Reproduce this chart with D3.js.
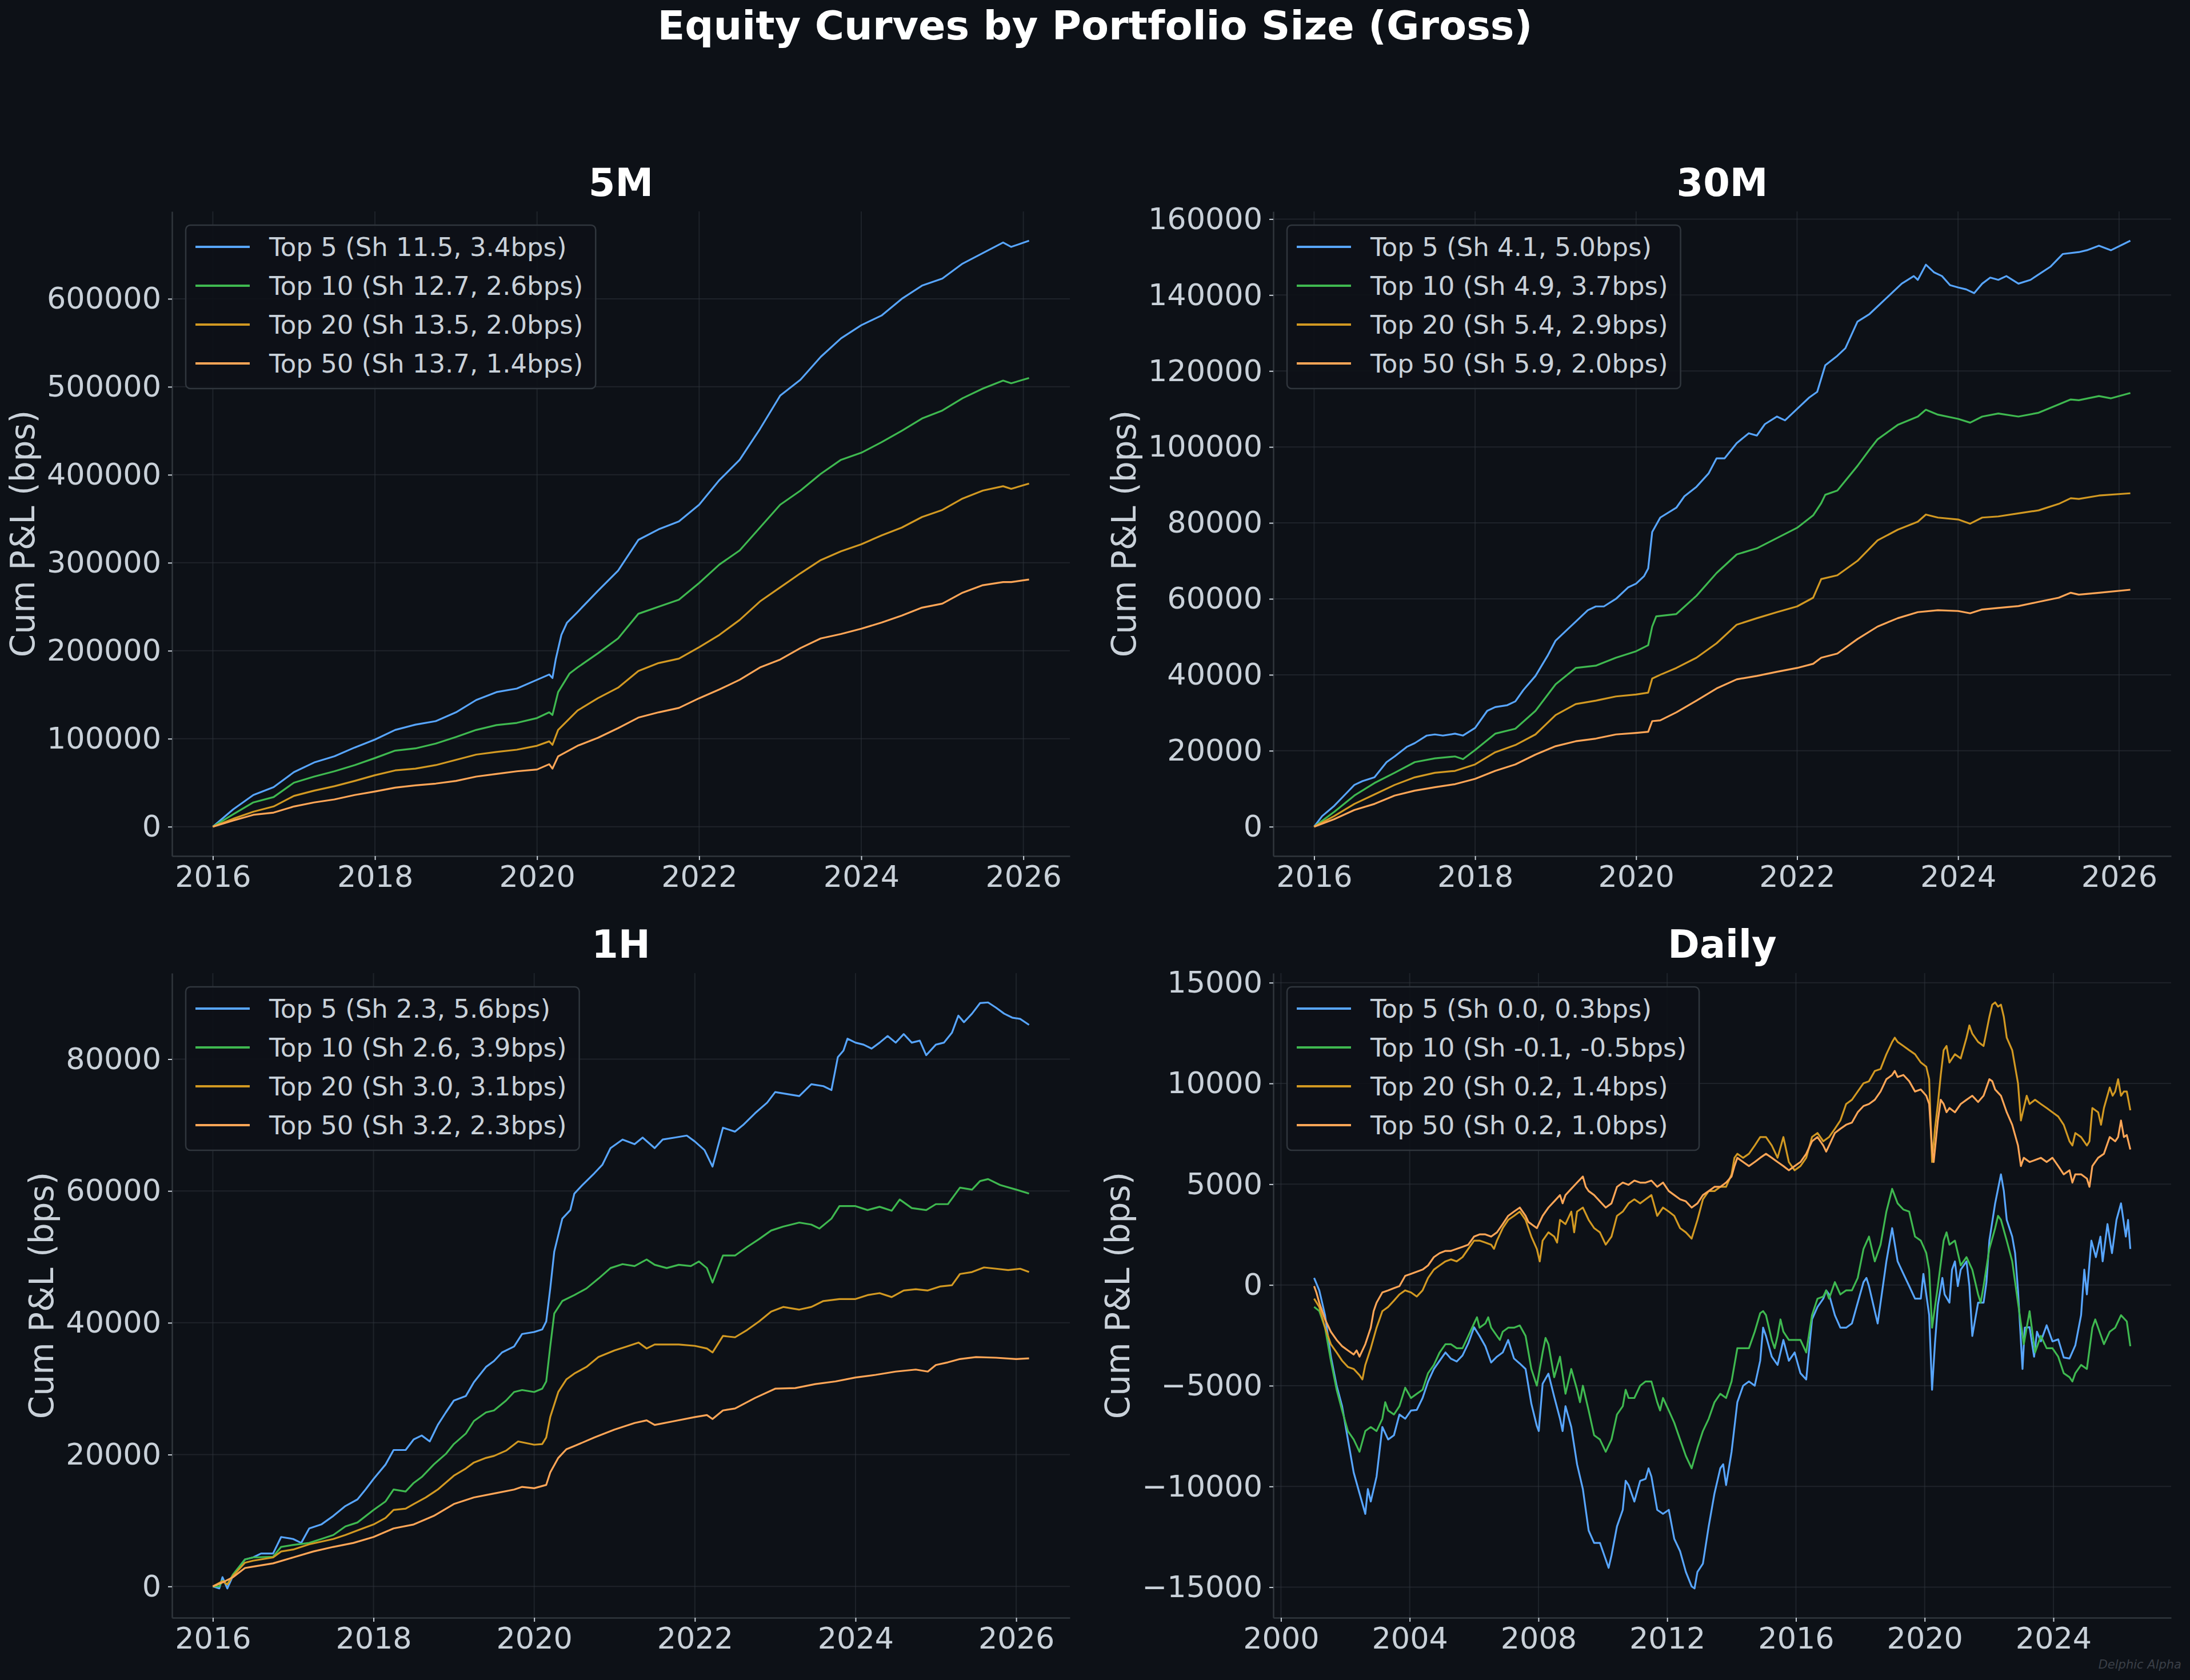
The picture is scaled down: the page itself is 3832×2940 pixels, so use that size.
<!DOCTYPE html>
<html>
<head>
<meta charset="utf-8">
<script src="https://cdn.jsdelivr.net/npm/d3@7"></script>
<style>
  body { margin: 0; background: #0d1117; }
  svg { display: block; }
</style>
</head>
<body>
<svg id="chart"></svg>
<script>
const svgWidth = 3832;
const svgHeight = 2940;
const colors = ["#58a6ff", "#3fb950", "#d29922", "#ffa657"];

// 5M
const legend5m = ["Top 5 (Sh 11.5, 3.4bps)", "Top 10 (Sh 12.7, 2.6bps)", "Top 20 (Sh 13.5, 2.0bps)", "Top 50 (Sh 13.7, 1.4bps)"];
const m5Top5 = [[2016.0,0],[2016.25,19600],[2016.5,36000],[2016.75,45000],[2017.0,62000],[2017.25,73000],[2017.5,80000],[2017.75,90000],[2018.0,99000],[2018.25,110000],[2018.5,116000],[2018.75,120000],[2019.0,130000],[2019.25,144000],[2019.5,153000],[2019.75,157000],[2020.0,167000],[2020.15,173000],[2020.19,169000],[2020.23,190000],[2020.3,218000],[2020.37,232000],[2020.5,244000],[2020.75,268000],[2021.0,291000],[2021.25,326000],[2021.5,338000],[2021.75,347000],[2022.0,366000],[2022.25,394000],[2022.5,417000],[2022.75,452000],[2023.0,490000],[2023.25,508000],[2023.5,534000],[2023.75,555000],[2024.0,570000],[2024.25,581000],[2024.5,600000],[2024.75,615000],[2025.0,623000],[2025.25,640000],[2025.5,652000],[2025.75,664000],[2025.85,659000],[2026.07,666000]];
const m5Top10 = [[2016.0,0],[2016.25,14000],[2016.5,27600],[2016.75,33700],[2017.0,50000],[2017.25,57000],[2017.5,63000],[2017.75,70000],[2018.0,78000],[2018.25,86500],[2018.5,89000],[2018.75,94500],[2019.0,102000],[2019.25,110000],[2019.5,115500],[2019.75,118000],[2020.0,123500],[2020.15,130000],[2020.19,127000],[2020.26,153000],[2020.4,174000],[2020.5,181000],[2020.75,197000],[2021.0,214000],[2021.25,242000],[2021.5,250000],[2021.75,258000],[2022.0,277000],[2022.25,298000],[2022.5,314000],[2022.75,340000],[2023.0,366000],[2023.25,382000],[2023.5,401000],[2023.75,417000],[2024.0,425000],[2024.25,437000],[2024.5,450000],[2024.75,464000],[2025.0,473000],[2025.25,487000],[2025.5,498000],[2025.75,507000],[2025.85,504000],[2026.07,510000]];
const m5Top20 = [[2016.0,0],[2016.25,9000],[2016.5,17000],[2016.75,23000],[2017.0,35000],[2017.25,41000],[2017.5,46000],[2017.75,52000],[2018.0,58500],[2018.25,64000],[2018.5,66000],[2018.75,70000],[2019.0,76000],[2019.25,82000],[2019.5,85000],[2019.75,87500],[2020.0,92000],[2020.15,97000],[2020.19,93000],[2020.26,110000],[2020.5,132000],[2020.75,146000],[2021.0,158000],[2021.25,177000],[2021.5,186000],[2021.75,191000],[2022.0,204000],[2022.25,218000],[2022.5,235000],[2022.75,256000],[2023.0,272000],[2023.25,288000],[2023.5,303000],[2023.75,313000],[2024.0,321000],[2024.25,331000],[2024.5,340000],[2024.75,352000],[2025.0,360000],[2025.25,373000],[2025.5,382000],[2025.75,387000],[2025.85,384000],[2026.07,390000]];
const m5Top50 = [[2016.0,0],[2016.25,7000],[2016.5,13500],[2016.75,16000],[2017.0,23000],[2017.25,27600],[2017.5,31000],[2017.75,36000],[2018.0,40000],[2018.25,44400],[2018.5,47000],[2018.75,49000],[2019.0,52000],[2019.25,57000],[2019.5,60000],[2019.75,63000],[2020.0,65000],[2020.15,71000],[2020.19,66000],[2020.26,80000],[2020.5,92000],[2020.75,101000],[2021.0,112000],[2021.25,124000],[2021.5,130000],[2021.75,135000],[2022.0,146000],[2022.25,156000],[2022.5,167000],[2022.75,181000],[2023.0,190000],[2023.25,203000],[2023.5,214000],[2023.75,219000],[2024.0,225000],[2024.25,232000],[2024.5,240000],[2024.75,249000],[2025.0,253500],[2025.25,266000],[2025.5,274500],[2025.75,278000],[2025.85,278000],[2026.07,281000]];

// 30M
const legend30m = ["Top 5 (Sh 4.1, 5.0bps)", "Top 10 (Sh 4.9, 3.7bps)", "Top 20 (Sh 5.4, 2.9bps)", "Top 50 (Sh 5.9, 2.0bps)"];
const m30Top5 = [[2016.0,0],[2016.1,2800],[2016.25,5500],[2016.4,8800],[2016.5,11000],[2016.6,12000],[2016.75,13000],[2016.9,17000],[2017.0,18500],[2017.15,21000],[2017.25,22000],[2017.4,24000],[2017.5,24300],[2017.6,24000],[2017.75,24500],[2017.85,24000],[2018.0,26000],[2018.15,30500],[2018.25,31500],[2018.4,32000],[2018.5,33000],[2018.6,36000],[2018.75,39700],[2018.9,45000],[2019.0,49000],[2019.15,52000],[2019.25,54000],[2019.4,57000],[2019.5,58000],[2019.6,58000],[2019.75,60000],[2019.9,63000],[2020.0,64000],[2020.1,66000],[2020.15,68000],[2020.2,77600],[2020.3,81400],[2020.5,84000],[2020.6,87000],[2020.75,89500],[2020.9,93000],[2021.0,97000],[2021.1,97000],[2021.25,101000],[2021.4,103600],[2021.5,103000],[2021.6,106000],[2021.75,108000],[2021.85,107000],[2022.0,110000],[2022.15,113000],[2022.25,114500],[2022.35,121500],[2022.5,124000],[2022.6,126000],[2022.75,133000],[2022.9,135000],[2023.0,137000],[2023.15,140000],[2023.3,143000],[2023.45,145000],[2023.5,144000],[2023.6,148000],[2023.7,146000],[2023.8,145000],[2023.9,142600],[2024.0,142000],[2024.1,141500],[2024.2,140500],[2024.3,143000],[2024.4,144600],[2024.5,144000],[2024.6,145000],[2024.75,143000],[2024.9,144000],[2025.0,145400],[2025.15,147500],[2025.3,150800],[2025.5,151300],[2025.6,151800],[2025.75,153000],[2025.9,151800],[2026.14,154300]];
const m30Top10 = [[2016.0,0],[2016.25,3900],[2016.5,8200],[2016.75,11500],[2017.0,14200],[2017.25,17000],[2017.5,18000],[2017.75,18500],[2017.85,17800],[2018.0,20200],[2018.25,24500],[2018.5,25800],[2018.75,30500],[2019.0,37500],[2019.25,41800],[2019.5,42400],[2019.75,44500],[2020.0,46200],[2020.15,47800],[2020.2,52700],[2020.25,55400],[2020.5,56000],[2020.75,60800],[2021.0,66800],[2021.25,71700],[2021.5,73300],[2021.75,76000],[2022.0,78700],[2022.2,82000],[2022.3,85200],[2022.35,87400],[2022.5,88500],[2022.75,95000],[2022.9,99300],[2023.0,102000],[2023.25,105800],[2023.5,108000],[2023.6,109800],[2023.75,108500],[2024.0,107400],[2024.15,106400],[2024.3,108000],[2024.5,108800],[2024.75,108000],[2025.0,109000],[2025.25,111200],[2025.4,112500],[2025.5,112300],[2025.75,113400],[2025.9,112800],[2026.14,114200]];
const m30Top20 = [[2016.0,0],[2016.25,2800],[2016.5,6000],[2016.75,8500],[2017.0,11000],[2017.25,13000],[2017.5,14200],[2017.75,14700],[2018.0,16400],[2018.25,19600],[2018.5,21500],[2018.75,24300],[2019.0,29400],[2019.25,32300],[2019.5,33200],[2019.75,34300],[2020.0,34800],[2020.15,35300],[2020.2,39000],[2020.3,40000],[2020.5,41800],[2020.75,44500],[2021.0,48300],[2021.25,53200],[2021.5,54900],[2021.75,56500],[2022.0,58000],[2022.2,60300],[2022.3,65200],[2022.5,66200],[2022.75,70000],[2023.0,75400],[2023.25,78200],[2023.5,80300],[2023.6,82200],[2023.75,81400],[2024.0,80900],[2024.15,79800],[2024.3,81400],[2024.5,81700],[2024.75,82500],[2025.0,83300],[2025.25,85000],[2025.4,86500],[2025.5,86300],[2025.75,87200],[2026.14,87800]];
const m30Top50 = [[2016.0,0],[2016.25,2000],[2016.5,4400],[2016.75,6000],[2017.0,8200],[2017.25,9500],[2017.5,10400],[2017.75,11200],[2018.0,12600],[2018.25,14700],[2018.5,16400],[2018.75,19000],[2019.0,21200],[2019.25,22500],[2019.5,23200],[2019.75,24300],[2020.0,24700],[2020.15,25000],[2020.2,27800],[2020.3,28000],[2020.5,30100],[2020.75,33200],[2021.0,36400],[2021.25,38800],[2021.5,39700],[2021.75,40800],[2022.0,41800],[2022.2,42900],[2022.3,44500],[2022.5,45600],[2022.75,49400],[2023.0,52700],[2023.25,54900],[2023.5,56500],[2023.75,57000],[2024.0,56800],[2024.15,56200],[2024.3,57200],[2024.5,57600],[2024.75,58100],[2025.0,59200],[2025.25,60300],[2025.4,61600],[2025.5,61100],[2025.75,61600],[2026.14,62400]];

// 1H
const legend1h = ["Top 5 (Sh 2.3, 5.6bps)", "Top 10 (Sh 2.6, 3.9bps)", "Top 20 (Sh 3.0, 3.1bps)", "Top 50 (Sh 3.2, 2.3bps)"];
const h1Top5 = [[2016.0,0],[2016.08,-300],[2016.12,1400],[2016.18,-300],[2016.25,1600],[2016.4,4100],[2016.5,4400],[2016.6,5000],[2016.75,5000],[2016.85,7500],[2017.0,7200],[2017.1,6600],[2017.2,8800],[2017.35,9400],[2017.5,10700],[2017.65,12200],[2017.8,13200],[2017.9,14700],[2018.0,16300],[2018.15,18500],[2018.25,20700],[2018.4,20700],[2018.5,22300],[2018.6,22900],[2018.7,22000],[2018.8,24500],[2018.9,26400],[2019.0,28200],[2019.15,28900],[2019.25,31000],[2019.4,33300],[2019.5,34200],[2019.6,35500],[2019.75,36400],[2019.85,38300],[2020.0,38600],[2020.1,39000],[2020.15,40200],[2020.2,45200],[2020.25,50800],[2020.3,53300],[2020.35,55800],[2020.45,57100],[2020.5,59600],[2020.6,60900],[2020.75,62700],[2020.85,64000],[2020.95,66500],[2021.1,67800],[2021.25,67100],[2021.35,68100],[2021.5,66500],[2021.6,67800],[2021.75,68100],[2021.9,68400],[2022.0,67500],[2022.12,66200],[2022.22,63700],[2022.35,69600],[2022.5,69000],[2022.6,70000],[2022.75,71800],[2022.9,73400],[2023.0,75000],[2023.15,74700],[2023.3,74400],[2023.45,76200],[2023.6,75900],[2023.7,75300],[2023.78,80300],[2023.85,81300],[2023.9,83100],[2024.0,82500],[2024.1,82200],[2024.2,81600],[2024.3,82500],[2024.4,83500],[2024.5,82500],[2024.6,83800],[2024.7,82500],[2024.8,82800],[2024.88,80600],[2025.0,82200],[2025.1,82500],[2025.2,84000],[2025.28,86600],[2025.35,85600],[2025.45,86900],[2025.55,88500],[2025.65,88600],[2025.75,87800],[2025.85,86900],[2025.95,86300],[2026.05,86100],[2026.16,85200]];
const h1Top10 = [[2016.0,0],[2016.08,0],[2016.12,900],[2016.18,300],[2016.25,1800],[2016.4,4100],[2016.5,4400],[2016.75,4500],[2016.85,6000],[2017.0,6300],[2017.2,6600],[2017.35,7200],[2017.5,7800],[2017.65,9100],[2017.8,9700],[2018.0,11600],[2018.15,12900],[2018.25,14700],[2018.4,14400],[2018.5,15700],[2018.6,16600],[2018.75,18500],[2018.9,20100],[2019.0,21600],[2019.15,23200],[2019.25,25100],[2019.4,26400],[2019.5,26700],[2019.65,28200],[2019.75,29500],[2019.85,29800],[2020.0,29500],[2020.1,30000],[2020.15,31100],[2020.2,36400],[2020.25,41400],[2020.35,43300],[2020.5,44200],[2020.65,45200],[2020.8,46700],[2020.95,48300],[2021.1,48900],[2021.25,48600],[2021.4,49600],[2021.5,48800],[2021.65,48300],[2021.8,48800],[2021.95,48600],[2022.05,49300],[2022.15,48300],[2022.22,46100],[2022.35,50200],[2022.5,50200],[2022.65,51500],[2022.8,52700],[2022.95,54000],[2023.1,54600],[2023.3,55200],[2023.45,54900],[2023.55,54300],[2023.7,55800],[2023.8,57700],[2024.0,57700],[2024.15,57100],[2024.3,57600],[2024.45,57000],[2024.55,58700],[2024.7,57400],[2024.88,57100],[2025.0,58000],[2025.15,58000],[2025.3,60500],[2025.45,60200],[2025.55,61500],[2025.65,61800],[2025.8,60900],[2026.0,60200],[2026.16,59600]];
const h1Top20 = [[2016.0,0],[2016.12,800],[2016.18,300],[2016.25,1600],[2016.4,3600],[2016.5,3900],[2016.75,4400],[2016.85,5300],[2017.0,5600],[2017.2,6400],[2017.5,7200],[2017.65,7800],[2017.8,8500],[2018.0,9400],[2018.15,10400],[2018.25,11600],[2018.4,11800],[2018.5,12500],[2018.65,13500],[2018.8,14700],[2019.0,16800],[2019.15,17900],[2019.25,18800],[2019.4,19500],[2019.5,19800],[2019.65,20600],[2019.8,22000],[2020.0,21500],[2020.1,21600],[2020.15,22600],[2020.2,25700],[2020.3,29500],[2020.4,31400],[2020.5,32300],[2020.65,33300],[2020.8,34800],[2021.0,35800],[2021.15,36400],[2021.3,37000],[2021.4,36100],[2021.5,36700],[2021.65,36700],[2021.8,36700],[2022.0,36500],[2022.15,36100],[2022.22,35500],[2022.35,38000],[2022.5,37800],[2022.65,38900],[2022.8,40200],[2022.95,41700],[2023.1,42400],[2023.3,42000],[2023.45,42400],[2023.6,43300],[2023.8,43600],[2024.0,43600],[2024.15,44200],[2024.3,44500],[2024.45,43900],[2024.6,44900],[2024.75,45100],[2024.9,44900],[2025.05,45500],[2025.2,45700],[2025.3,47400],[2025.45,47700],[2025.6,48400],[2025.75,48200],[2025.9,48000],[2026.05,48200],[2026.16,47700]];
const h1Top50 = [[2016.0,0],[2016.12,600],[2016.25,1400],[2016.4,2800],[2016.5,3000],[2016.75,3500],[2017.0,4400],[2017.25,5300],[2017.5,6000],[2017.75,6600],[2018.0,7500],[2018.25,8800],[2018.5,9400],[2018.75,10700],[2019.0,12500],[2019.25,13500],[2019.5,14100],[2019.75,14700],[2019.85,15100],[2020.0,14900],[2020.15,15400],[2020.2,17300],[2020.3,19500],[2020.4,20800],[2020.5,21300],[2020.75,22600],[2021.0,23800],[2021.25,24800],[2021.4,25200],[2021.5,24500],[2021.75,25100],[2022.0,25700],[2022.15,26000],[2022.22,25400],[2022.35,26700],[2022.5,27000],[2022.75,28600],[2023.0,30000],[2023.25,30100],[2023.5,30700],[2023.75,31100],[2024.0,31700],[2024.25,32100],[2024.5,32600],[2024.75,32900],[2024.9,32600],[2025.0,33600],[2025.15,34000],[2025.3,34500],[2025.5,34800],[2025.75,34700],[2026.0,34500],[2026.16,34600]];

// Daily
const legendDaily = ["Top 5 (Sh 0.0, 0.3bps)", "Top 10 (Sh -0.1, -0.5bps)", "Top 20 (Sh 0.2, 1.4bps)", "Top 50 (Sh 0.2, 1.0bps)"];
const dTop5 = [[2001.03,350],[2001.19,-270],[2001.37,-1500],[2001.55,-3550],[2001.73,-5000],[2001.90,-6020],[2002.08,-7670],[2002.26,-9310],[2002.44,-10340],[2002.62,-11360],[2002.70,-10130],[2002.79,-10750],[2002.97,-9510],[2003.15,-7050],[2003.33,-7670],[2003.51,-7460],[2003.68,-6430],[2003.86,-6640],[2004.04,-6230],[2004.22,-6200],[2004.40,-5610],[2004.57,-4800],[2004.75,-4170],[2004.93,-3760],[2005.11,-3350],[2005.28,-3660],[2005.46,-3800],[2005.64,-3500],[2005.82,-2900],[2006.00,-2100],[2006.17,-2530],[2006.35,-3040],[2006.53,-3850],[2006.71,-3560],[2006.89,-3350],[2007.06,-2730],[2007.24,-3650],[2007.42,-3900],[2007.60,-4170],[2007.78,-5900],[2007.95,-7000],[2008.01,-7250],[2008.13,-4900],[2008.31,-4400],[2008.49,-5550],[2008.67,-6640],[2008.75,-7250],[2008.84,-6020],[2009.02,-7050],[2009.20,-8900],[2009.38,-10130],[2009.56,-12190],[2009.73,-12800],[2009.91,-12800],[2010.09,-13620],[2010.18,-14040],[2010.27,-13420],[2010.44,-11980],[2010.62,-11160],[2010.71,-9720],[2010.80,-9930],[2010.98,-10750],[2011.16,-9720],[2011.33,-9620],[2011.42,-9100],[2011.51,-9510],[2011.69,-11160],[2011.87,-11360],[2012.05,-11160],[2012.22,-12600],[2012.40,-13210],[2012.58,-14240],[2012.76,-14960],[2012.85,-15060],[2012.94,-14240],[2013.11,-13830],[2013.29,-11980],[2013.47,-10340],[2013.65,-9100],[2013.74,-8900],[2013.83,-9930],[2014.00,-8280],[2014.18,-5820],[2014.36,-5000],[2014.54,-4790],[2014.72,-5000],[2014.89,-3760],[2014.98,-2120],[2015.07,-2530],[2015.25,-3560],[2015.43,-3970],[2015.61,-2730],[2015.78,-3760],[2015.96,-3350],[2016.14,-4380],[2016.32,-4690],[2016.50,-1710],[2016.67,-1090],[2016.85,-680],[2016.94,-270],[2017.03,-470],[2017.21,-1500],[2017.38,-2120],[2017.56,-2120],[2017.74,-1910],[2017.92,-880],[2018.10,140],[2018.19,350],[2018.27,-60],[2018.45,-1300],[2018.54,-1910],[2018.63,-880],[2018.81,1170],[2018.99,2820],[2019.16,1170],[2019.34,550],[2019.52,-60],[2019.70,-680],[2019.88,-680],[2019.96,550],[2020.05,-470],[2020.14,-1500],[2020.23,-5200],[2020.32,-2900],[2020.41,-1000],[2020.55,350],[2020.62,-470],[2020.77,-880],[2020.85,760],[2020.94,1170],[2021.03,-60],[2021.12,760],[2021.30,1170],[2021.39,-60],[2021.48,-2530],[2021.66,-880],[2021.83,-880],[2021.92,140],[2022.01,2200],[2022.19,4050],[2022.37,5490],[2022.46,4660],[2022.55,3230],[2022.72,2400],[2022.81,1580],[2022.90,-270],[2023.04,-4170],[2023.11,-2120],[2023.26,-2100],[2023.40,-3560],[2023.49,-2320],[2023.61,-2800],[2023.79,-2000],[2023.97,-2800],[2024.15,-2700],[2024.32,-3600],[2024.50,-3650],[2024.68,-3000],[2024.86,-1500],[2024.96,760],[2025.04,-470],[2025.18,2200],[2025.32,1380],[2025.46,2400],[2025.53,1170],[2025.68,3020],[2025.82,1580],[2025.96,3230],[2026.10,4050],[2026.25,2400],[2026.32,3230],[2026.39,1790]];
const dTop10 = [[2001.03,-1090],[2001.19,-1290],[2001.37,-2120],[2001.55,-3760],[2001.73,-5200],[2001.90,-6230],[2002.08,-7250],[2002.26,-7670],[2002.44,-8280],[2002.62,-7250],[2002.79,-7050],[2002.97,-7250],[2003.15,-6640],[2003.24,-5820],[2003.33,-6230],[2003.51,-6430],[2003.68,-6020],[2003.86,-5100],[2004.04,-5610],[2004.22,-5400],[2004.40,-5200],[2004.57,-4380],[2004.75,-3970],[2004.93,-3350],[2005.11,-2940],[2005.28,-2940],[2005.46,-3140],[2005.64,-3140],[2005.82,-2530],[2006.00,-1910],[2006.09,-1600],[2006.17,-2120],[2006.35,-1910],[2006.44,-1600],[2006.53,-2120],[2006.71,-2530],[2006.80,-2730],[2006.89,-2320],[2007.06,-2120],[2007.24,-2120],[2007.42,-2010],[2007.60,-2530],[2007.78,-4170],[2007.95,-5000],[2008.13,-3350],[2008.22,-2630],[2008.31,-2940],[2008.49,-4580],[2008.67,-3560],[2008.84,-5400],[2009.02,-4170],[2009.20,-5200],[2009.29,-5820],[2009.38,-5000],[2009.56,-6230],[2009.73,-7460],[2009.91,-7670],[2010.09,-8280],[2010.27,-7670],[2010.44,-6430],[2010.62,-6020],[2010.71,-5200],[2010.80,-5610],[2010.98,-5610],[2011.16,-5000],[2011.33,-4790],[2011.51,-4790],[2011.69,-5820],[2011.78,-6230],[2011.87,-5610],[2012.05,-6230],[2012.22,-6840],[2012.40,-7670],[2012.58,-8490],[2012.76,-9100],[2012.94,-8080],[2013.11,-7250],[2013.29,-6640],[2013.47,-5820],[2013.65,-5400],[2013.83,-5610],[2014.00,-4790],[2014.18,-3140],[2014.36,-3140],[2014.54,-3140],[2014.72,-2320],[2014.89,-1400],[2014.98,-1300],[2015.07,-1500],[2015.25,-2730],[2015.34,-3140],[2015.43,-2530],[2015.52,-1710],[2015.61,-2320],[2015.78,-2730],[2015.96,-2730],[2016.14,-2730],[2016.32,-3350],[2016.50,-1500],[2016.67,-680],[2016.85,-575],[2016.94,-270],[2017.03,-680],[2017.21,140],[2017.38,-470],[2017.56,-270],[2017.74,-270],[2017.92,350],[2018.10,1790],[2018.27,2400],[2018.45,1170],[2018.63,2000],[2018.81,3640],[2018.99,4770],[2019.16,4050],[2019.34,3740],[2019.52,3640],[2019.70,2400],[2019.88,2200],[2020.05,1580],[2020.14,760],[2020.23,-2120],[2020.41,-60],[2020.59,2200],[2020.68,2610],[2020.77,2000],[2020.94,2200],[2021.12,970],[2021.30,1380],[2021.48,760],[2021.66,-470],[2021.74,-880],[2021.83,-60],[2022.01,1790],[2022.19,2820],[2022.28,3430],[2022.37,3230],[2022.55,2200],[2022.72,1170],[2022.90,-880],[2023.08,-2940],[2023.26,-1300],[2023.43,-3350],[2023.61,-2530],[2023.79,-3140],[2023.97,-3140],[2024.15,-3560],[2024.32,-4380],[2024.50,-4580],[2024.59,-4790],[2024.68,-4380],[2024.86,-3970],[2025.04,-4170],[2025.21,-2120],[2025.30,-1710],[2025.39,-2120],[2025.57,-2940],[2025.75,-2320],[2025.92,-2120],[2026.10,-1500],[2026.28,-1810],[2026.39,-3040]];
const dTop20 = [[2001.03,-680],[2001.19,-1090],[2001.37,-2120],[2001.55,-2940],[2001.73,-3350],[2001.90,-3760],[2002.08,-4070],[2002.26,-4170],[2002.44,-4480],[2002.53,-4690],[2002.62,-3970],[2002.79,-3140],[2002.97,-2120],[2003.15,-1300],[2003.33,-1090],[2003.51,-780],[2003.68,-470],[2003.86,-270],[2004.04,-370],[2004.22,-575],[2004.40,-270],[2004.57,350],[2004.75,760],[2004.93,970],[2005.11,1170],[2005.28,1270],[2005.46,1170],[2005.64,1380],[2005.82,1790],[2006.00,2200],[2006.17,2200],[2006.35,2100],[2006.53,2000],[2006.62,1790],[2006.71,2200],[2006.89,2820],[2007.06,3230],[2007.24,3430],[2007.42,3640],[2007.60,3230],[2007.78,2400],[2007.95,1790],[2008.04,1170],[2008.13,2200],[2008.31,2610],[2008.49,2400],[2008.58,2100],[2008.67,3230],[2008.84,3020],[2009.02,3640],[2009.11,2610],[2009.20,3640],[2009.38,3840],[2009.56,3230],[2009.73,2820],[2009.91,2610],[2010.09,2000],[2010.27,2400],[2010.44,3430],[2010.62,3640],[2010.80,4050],[2010.98,4250],[2011.16,4050],[2011.33,4250],[2011.51,4460],[2011.69,3430],[2011.87,3840],[2012.05,3640],[2012.22,3430],[2012.40,2820],[2012.58,2610],[2012.76,2300],[2012.94,3230],[2013.11,4250],[2013.29,4660],[2013.47,4660],[2013.65,4870],[2013.83,4870],[2014.00,5490],[2014.09,6310],[2014.18,6510],[2014.36,6310],[2014.54,6510],[2014.72,6920],[2014.89,7340],[2015.07,7340],[2015.25,6920],[2015.43,6310],[2015.61,7340],[2015.78,6100],[2015.96,5690],[2016.14,5900],[2016.32,6310],[2016.50,7340],[2016.67,7540],[2016.85,7130],[2017.03,7340],[2017.21,7750],[2017.38,8160],[2017.56,8980],[2017.74,9190],[2017.92,9600],[2018.10,10010],[2018.27,10110],[2018.45,10620],[2018.63,10720],[2018.81,11450],[2018.99,12060],[2019.07,12270],[2019.16,12060],[2019.34,11860],[2019.52,11650],[2019.70,11450],[2019.88,11040],[2020.05,10830],[2020.14,10210],[2020.23,6100],[2020.32,7750],[2020.41,8980],[2020.50,10420],[2020.59,11650],[2020.68,11860],[2020.77,11040],[2020.94,11450],[2021.12,11240],[2021.30,12270],[2021.39,12880],[2021.48,12470],[2021.66,12060],[2021.83,11860],[2022.01,13300],[2022.10,13910],[2022.19,14020],[2022.28,13810],[2022.37,13910],[2022.46,13300],[2022.55,12270],[2022.72,11650],[2022.90,10010],[2022.99,8160],[2023.08,8780],[2023.17,9390],[2023.26,8980],[2023.43,9190],[2023.61,8980],[2023.79,8780],[2023.97,8570],[2024.15,8360],[2024.32,7950],[2024.50,7130],[2024.59,6920],[2024.68,7540],[2024.86,7340],[2025.04,6920],[2025.12,7130],[2025.21,8780],[2025.39,8570],[2025.48,7950],[2025.57,8780],[2025.75,9800],[2025.84,9390],[2025.92,9600],[2026.01,10210],[2026.10,9390],[2026.19,9600],[2026.28,9600],[2026.39,8670]];
const dTop50 = [[2001.03,-60],[2001.10,-370],[2001.19,-880],[2001.37,-1710],[2001.55,-2320],[2001.73,-2730],[2001.90,-3040],[2002.08,-3250],[2002.26,-3450],[2002.35,-3250],[2002.44,-3560],[2002.62,-2940],[2002.79,-2120],[2002.88,-1300],[2002.97,-880],[2003.15,-370],[2003.33,-270],[2003.51,-160],[2003.68,-60],[2003.86,450],[2004.04,550],[2004.22,660],[2004.40,760],[2004.57,970],[2004.75,1380],[2004.93,1580],[2005.11,1690],[2005.28,1690],[2005.46,1790],[2005.64,1890],[2005.82,2000],[2006.00,2400],[2006.17,2510],[2006.35,2510],[2006.53,2400],[2006.71,2610],[2006.89,3020],[2007.06,3430],[2007.24,3640],[2007.42,3840],[2007.60,3430],[2007.69,3120],[2007.78,3020],[2007.95,2820],[2008.13,3430],[2008.31,3840],[2008.49,4150],[2008.67,4460],[2008.75,4050],[2008.84,4460],[2009.02,4770],[2009.20,5080],[2009.38,5380],[2009.47,4870],[2009.56,4660],[2009.73,4460],[2009.91,4150],[2010.09,3840],[2010.27,4050],[2010.44,4870],[2010.62,5080],[2010.80,4970],[2010.98,5180],[2011.16,5080],[2011.33,5080],[2011.51,5180],[2011.69,4870],[2011.87,5080],[2012.05,4660],[2012.22,4460],[2012.40,4250],[2012.58,4150],[2012.76,3840],[2012.94,4050],[2013.11,4460],[2013.29,4660],[2013.47,4870],[2013.65,4870],[2013.83,5080],[2014.00,5380],[2014.09,5900],[2014.18,6310],[2014.36,6100],[2014.54,5900],[2014.72,6100],[2014.89,6310],[2015.07,6510],[2015.25,6310],[2015.43,6100],[2015.61,5900],[2015.78,5690],[2015.96,5900],[2016.14,6100],[2016.32,6510],[2016.50,7130],[2016.67,7340],[2016.85,6920],[2016.94,6620],[2017.03,6920],[2017.21,7540],[2017.38,7750],[2017.56,7950],[2017.74,8060],[2017.92,8570],[2018.10,8880],[2018.27,8980],[2018.45,9190],[2018.63,9600],[2018.81,10210],[2018.99,10420],[2019.07,10620],[2019.16,10320],[2019.34,10420],[2019.52,10110],[2019.70,9600],[2019.88,9700],[2020.05,9390],[2020.14,8980],[2020.23,6720],[2020.28,6100],[2020.41,8160],[2020.50,9190],[2020.59,8980],[2020.68,8570],[2020.77,8780],[2020.94,8570],[2021.12,8980],[2021.30,9190],[2021.48,9390],[2021.66,9080],[2021.83,9390],[2022.01,10210],[2022.10,10110],[2022.19,9700],[2022.37,9390],[2022.55,8570],[2022.72,7950],[2022.90,6920],[2022.99,5900],[2023.08,6310],[2023.26,6100],[2023.43,6200],[2023.61,6310],[2023.79,6100],[2023.97,6310],[2024.15,5900],[2024.32,5490],[2024.50,5690],[2024.59,5080],[2024.68,5490],[2024.86,5490],[2025.04,5280],[2025.12,4870],[2025.21,5900],[2025.39,6310],[2025.57,6510],[2025.75,7340],[2025.92,7130],[2026.01,7340],[2026.10,8160],[2026.19,7340],[2026.28,7440],[2026.39,6720]];

// ticks
const xTicksIntraday = [2016, 2018, 2020, 2022, 2024, 2026];
const xTicksDaily = [2000, 2004, 2008, 2012, 2016, 2020, 2024];
const yTicks5m = [0, 100000, 200000, 300000, 400000, 500000, 600000];
const yTicks30m = [0, 20000, 40000, 60000, 80000, 100000, 120000, 140000, 160000];
const yTicks1h = [0, 20000, 40000, 60000, 80000];
const yTicksDaily = [-15000, -10000, -5000, 0, 5000, 10000, 15000];

const panels = [
  { title: "5M", series: [m5Top5, m5Top10, m5Top20, m5Top50], labels: legend5m, xTicks: xTicksIntraday, yTicks: yTicks5m, left: 301, top: 370 },
  { title: "30M", series: [m30Top5, m30Top10, m30Top20, m30Top50], labels: legend30m, xTicks: xTicksIntraday, yTicks: yTicks30m, left: 2228, top: 370 },
  { title: "1H", series: [h1Top5, h1Top10, h1Top20, h1Top50], labels: legend1h, xTicks: xTicksIntraday, yTicks: yTicks1h, left: 301, top: 1703 },
  { title: "Daily", series: [dTop5, dTop10, dTop20, dTop50], labels: legendDaily, xTicks: xTicksDaily, yTicks: yTicksDaily, left: 2228, top: 1703 }
];
const panelWidth = 1571;
const panelHeight = 1128;

const font = "'DejaVu Sans', sans-serif";
const textColor = "#c9d1d9";
const spineColor = "#30363d";

const svg = d3.select("#chart")
  .attr("width", svgWidth)
  .attr("height", svgHeight)
  .style("background", "#0d1117");

svg.append("text")
  .attr("x", svgWidth / 2)
  .attr("y", 69)
  .attr("text-anchor", "middle")
  .style("font-family", font)
  .style("font-weight", "bold")
  .style("font-size", "70px")
  .style("fill", "#ffffff")
  .text("Equity Curves by Portfolio Size (Gross)");

const fmt = d => (d < 0 ? "\u2212" + Math.abs(d) : String(d));

function padded(ext) {
  const pad = (ext[1] - ext[0]) * 0.05;
  return [ext[0] - pad, ext[1] + pad];
}

function drawPanel(p) {
  const all = p.series.flat();
  const x = d3.scaleLinear()
    .domain(padded(d3.extent(all, d => d[0])))
    .range([0, panelWidth]);
  const y = d3.scaleLinear()
    .domain(padded(d3.extent(all, d => d[1])))
    .range([panelHeight, 0]);

  const g = svg.append("g").attr("transform", `translate(${p.left},${p.top})`);

  // grid
  g.append("g").selectAll("line").data(p.xTicks).join("line")
    .attr("x1", d => x(d)).attr("x2", d => x(d))
    .attr("y1", 0).attr("y2", panelHeight)
    .attr("stroke", spineColor).attr("stroke-opacity", 0.5).attr("stroke-width", 2);
  g.append("g").selectAll("line").data(p.yTicks).join("line")
    .attr("x1", 0).attr("x2", panelWidth)
    .attr("y1", d => y(d)).attr("y2", d => y(d))
    .attr("stroke", spineColor).attr("stroke-opacity", 0.5).attr("stroke-width", 2);

  const line = d3.line().x(d => x(d[0])).y(d => y(d[1]));
  p.series.forEach((s, i) => {
    g.append("path")
      .attr("d", line(s))
      .attr("fill", "none")
      .attr("stroke", colors[i])
      .attr("stroke-width", 3.2)
      .attr("stroke-linejoin", "round");
  });

  const xAxis = g.append("g")
    .attr("transform", `translate(0,${panelHeight})`)
    .call(d3.axisBottom(x).tickValues(p.xTicks).tickFormat(d3.format("d")).tickSize(7).tickSizeOuter(0).tickPadding(10));
  const yAxis = g.append("g")
    .call(d3.axisLeft(y).tickValues(p.yTicks).tickFormat(fmt).tickSize(7).tickSizeOuter(0).tickPadding(12));

  [xAxis, yAxis].forEach(a => {
    a.select(".domain").attr("stroke", spineColor).attr("stroke-width", 2.5);
    a.selectAll(".tick line").attr("stroke", textColor).attr("stroke-width", 2);
    a.selectAll(".tick text")
      .style("font-family", font)
      .style("font-size", "52.4px")
      .style("fill", textColor);
  });

  let maxTick = 0;
  yAxis.selectAll(".tick text").each(function () {
    maxTick = Math.max(maxTick, this.getComputedTextLength());
  });

  g.append("text")
    .attr("transform", `translate(${-19 - maxTick - 22},${panelHeight / 2}) rotate(-90)`)
    .attr("text-anchor", "middle")
    .style("font-family", font)
    .style("font-size", "58px")
    .style("fill", textColor)
    .text("Cum P&L (bps)");

  g.append("text")
    .attr("x", panelWidth / 2)
    .attr("y", -27)
    .attr("text-anchor", "middle")
    .style("font-family", font)
    .style("font-weight", "bold")
    .style("font-size", "67px")
    .style("fill", "#ffffff")
    .text(p.title);

  // legend
  const lg = g.append("g").attr("transform", "translate(24,24)");
  const box = lg.append("rect")
    .attr("height", 286)
    .attr("rx", 8)
    .attr("fill", "#0d1117")
    .attr("fill-opacity", 0.9)
    .attr("stroke", spineColor)
    .attr("stroke-width", 2.5);
  let maxText = 0;
  p.labels.forEach((lab, i) => {
    const cy = 38 + i * 68;
    lg.append("line")
      .attr("x1", 17).attr("x2", 112)
      .attr("y1", cy).attr("y2", cy)
      .attr("stroke", colors[i]).attr("stroke-width", 4);
    const t = lg.append("text")
      .attr("x", 146).attr("y", cy).attr("dy", "0.36em")
      .style("font-family", font)
      .style("font-size", "45px")
      .style("fill", textColor)
      .text(lab);
    maxText = Math.max(maxText, t.node().getComputedTextLength());
  });
  box.attr("width", 146 + maxText + 22);
}

panels.forEach(drawPanel);

svg.append("text")
  .attr("x", 3817)
  .attr("y", 2920)
  .attr("text-anchor", "end")
  .style("font-family", font)
  .style("font-style", "italic")
  .style("font-size", "21px")
  .style("fill", "#3b4048")
  .text("Delphic Alpha");
</script>
</body>
</html>
